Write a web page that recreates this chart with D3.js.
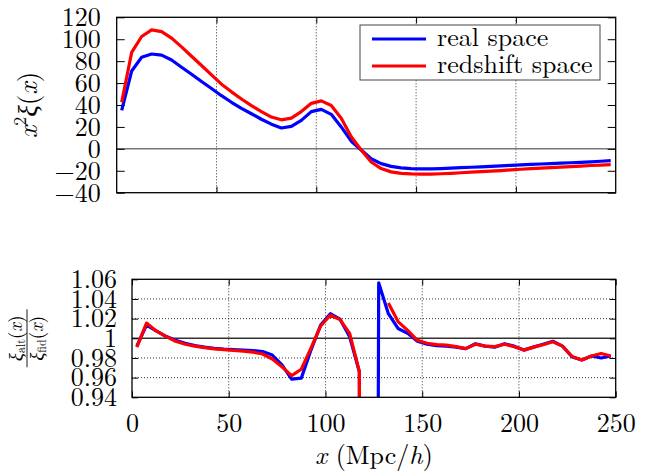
<!DOCTYPE html>
<html>
<head>
<meta charset="utf-8">
<script src="https://cdn.jsdelivr.net/npm/d3@7"></script>
<style>
  body { margin: 0; background: #fff; }
  text { font-family: "Latin Modern Roman", "Liberation Serif", serif; fill: #000; }
  .greek { font-family: "Liberation Serif", serif; font-style: italic; }
</style>
</head>
<body>
<svg id="chart"></svg>
<script>
/* global d3 */

// bin centres (Mpc/h)
const binCentres = [
  2.5, 7.5, 12.5, 17.5, 22.5, 27.5, 32.5, 37.5, 42.5, 47.5,
  52.5, 57.5, 62.5, 67.5, 72.5, 77.5, 82.5, 87.5, 92.5, 97.5,
  102.5, 107.5, 112.5, 117.5, 122.5, 127.5, 132.5, 137.5, 142.5, 147.5,
  152.5, 157.5, 162.5, 167.5, 172.5, 177.5, 182.5, 187.5, 192.5, 197.5,
  202.5, 207.5, 212.5, 217.5, 222.5, 227.5, 232.5, 237.5, 242.5, 247.5,
];

// x^2 xi(x)
const realXi = [
  35, 71, 83.5, 86.5, 85.5, 81, 74.5, 68, 61.5, 55,
  48.5, 42.5, 37, 32, 27, 22.5, 19, 20.5, 26, 34,
  36, 31.5, 20, 7, -1, -9, -13.5, -16, -17.3, -18,
  -18.2, -18.2, -18, -17.6, -17.2, -16.8, -16.4, -16, -15.6, -15,
  -14.6, -14.2, -13.8, -13.5, -13.1, -12.7, -12.3, -11.8, -11.3, -10.8,
];
const redshiftXi = [
  42.5, 88, 102.5, 108.5, 107, 101, 93, 84.5, 76, 67.5,
  59, 52, 45.5, 39.5, 34, 29, 26.5, 28, 34, 41.5,
  43.8, 39.5, 28, 11, -1, -12, -18, -21, -22.3, -22.8,
  -23, -23, -22.7, -22.3, -21.8, -21.3, -20.8, -20.3, -19.8, -19.2,
  -18.6, -18.1, -17.6, -17.2, -16.7, -16.2, -15.7, -15.2, -14.8, -14.4,
];

// xi_alt / xi_fid
const realRatio = [
  0.992, 1.0135, 1.0075, 1.002, 0.998, 0.995, 0.9925, 0.991, 0.9898, 0.989,
  0.9885, 0.988, 0.9875, 0.9865, 0.983, 0.973, 0.9585, 0.9595, 0.988, 1.0135,
  1.025, 1.0195, 1.0015, 0.966, -1.85, 1.0565, 1.025, 1.01, 1.005, 0.997,
  0.994, 0.9925, 0.992, 0.991, 0.9895, 0.9945, 0.992, 0.991, 0.9945, 0.992,
  0.988, 0.991, 0.994, 0.997, 0.992, 0.981, 0.978, 0.982, 0.980, 0.982,
];
const redshiftRatio = [
  0.991, 1.0155, 1.0075, 1.002, 0.997, 0.994, 0.992, 0.9905, 0.9893, 0.9885,
  0.9878, 0.987, 0.986, 0.984, 0.979, 0.971, 0.962, 0.9685, 0.99, 1.0125,
  1.0235, 1.019, 1.005, 0.966, -3, null, 1.036, 1.017, 1.008, 0.998,
  0.995, 0.9935, 0.993, 0.9915, 0.9895, 0.994, 0.992, 0.9915, 0.994, 0.9915,
  0.988, 0.991, 0.9935, 0.9965, 0.992, 0.9815, 0.978, 0.982, 0.9845, 0.982,
];

const seriesNames = ['real space', 'redshift space'];
const seriesColors = ['#0000ff', '#ff0000'];

const xiTicks = [120, 100, 80, 60, 40, 20, 0, -20, -40];
const ratioTicks = [1.06, 1.04, 1.02, 1, 0.98, 0.96, 0.94];
const ratioTickLabels = ['1.06', '1.04', '1.02', '1', '0.98', '0.96', '0.94'];
const xTicks = [0, 50, 100, 150, 200, 250];
const xGrid = [50, 100, 150, 200];

//-------------------------------------------------

const WIDTH = 646;
const HEIGHT = 475;
const FONT = 26;
const FAMILY = '"Latin Modern Roman", "Liberation Serif", serif';

const topBox = { left: 116.7, right: 615.7, top: 17.3, bottom: 192.7 };
const botBox = { left: 132, right: 615.7, top: 279.3, bottom: 397.3 };

const svg = d3.select('#chart')
  .attr('width', WIDTH)
  .attr('height', HEIGHT);

const minus = d => (d < 0 ? `\u2212${-d}` : `${d}`);

const xTop = d3.scaleLinear().domain([0, 250]).range([topBox.left, topBox.right]);
const yTop = d3.scaleLinear().domain([-40, 120]).range([topBox.bottom, topBox.top]);
const xBot = d3.scaleLinear().domain([0, 250]).range([botBox.left, botBox.right]);
const yBot = d3.scaleLinear().domain([0.94, 1.06]).range([botBox.bottom, botBox.top]);

const styleAxis = function (g) {
  g.select('.domain').remove();
  g.selectAll('.tick line').attr('stroke', '#000').attr('stroke-width', 1);
  g.selectAll('.tick text')
    .style('font-family', FAMILY)
    .attr('font-size', FONT);
};

const panel = function (box, x, name) {
  const g = svg.append('g');
  const id = `clip-${name}`;
  svg.append('clipPath').attr('id', id)
    .append('rect')
    .attr('x', box.left).attr('y', box.top)
    .attr('width', box.right - box.left)
    .attr('height', box.bottom - box.top);

  g.selectAll('.vgrid')
    .data(xGrid)
    .enter().append('line')
    .attr('x1', d => x(d)).attr('x2', d => x(d))
    .attr('y1', box.top).attr('y2', box.bottom)
    .attr('stroke', '#000')
    .attr('stroke-width', 0.8)
    .attr('stroke-dasharray', '1,2');
  return { g, id };
};

//------------------------------------------------- top panel

const topPanel = panel(topBox, xTop, 'top');

topPanel.g.append('line')
  .attr('x1', topBox.left).attr('x2', topBox.right)
  .attr('y1', yTop(0)).attr('y2', yTop(0))
  .attr('stroke', '#777')
  .attr('stroke-width', 1.5);

topPanel.g.append('g')
  .attr('transform', `translate(${topBox.left},0)`)
  .call(d3.axisLeft(yTop).tickValues(xiTicks).tickSize(-8).tickPadding(16).tickFormat(minus))
  .call(styleAxis);
topPanel.g.append('g')
  .attr('transform', `translate(${topBox.right},0)`)
  .call(d3.axisRight(yTop).tickValues(xiTicks).tickSize(-8).tickFormat(''))
  .call(styleAxis);
topPanel.g.append('g')
  .attr('transform', `translate(0,${topBox.bottom})`)
  .call(d3.axisBottom(xTop).tickValues(xGrid).tickSize(-6).tickFormat(''))
  .call(styleAxis);
topPanel.g.append('g')
  .attr('transform', `translate(0,${topBox.top})`)
  .call(d3.axisTop(xTop).tickValues(xGrid).tickSize(-6).tickFormat(''))
  .call(styleAxis);

const lineTop = d3.line()
  .x((d, i) => xTop(binCentres[i]))
  .y(d => yTop(d));

[realXi, redshiftXi].forEach((vals, k) => {
  topPanel.g.append('path')
    .datum(vals)
    .attr('clip-path', `url(#${topPanel.id})`)
    .attr('fill', 'none')
    .attr('stroke', seriesColors[k])
    .attr('stroke-width', 3.2)
    .attr('stroke-linejoin', 'round')
    .attr('d', lineTop);
});

topPanel.g.append('rect')
  .attr('x', topBox.left).attr('y', topBox.top)
  .attr('width', topBox.right - topBox.left)
  .attr('height', topBox.bottom - topBox.top)
  .attr('fill', 'none')
  .attr('stroke', '#000')
  .attr('stroke-width', 1.3);

// legend
const legend = topPanel.g.append('g');
legend.append('rect')
  .attr('x', 360).attr('y', 25)
  .attr('width', 240).attr('height', 55)
  .attr('fill', '#fff')
  .attr('stroke', '#444')
  .attr('stroke-width', 1);
seriesNames.forEach((name, k) => {
  const yy = 39 + k * 27;
  legend.append('line')
    .attr('x1', 372).attr('x2', 426)
    .attr('y1', yy).attr('y2', yy)
    .attr('stroke', seriesColors[k])
    .attr('stroke-width', 3.2);
  legend.append('text')
    .attr('x', 437).attr('y', yy + 7)
    .attr('font-size', FONT)
    .text(name);
});

// y label: x^2 xi(x)
const yl = svg.append('text')
  .attr('transform', `translate(37,${(topBox.top + topBox.bottom) / 2}) rotate(-90)`)
  .attr('text-anchor', 'middle')
  .attr('font-size', 27);
yl.append('tspan').attr('font-style', 'italic').text('x');
yl.append('tspan').attr('font-size', 18).attr('dy', -11).text('2');
yl.append('tspan').attr('dy', 11).attr('class', 'greek').text('ξ');
yl.append('tspan').text('(');
yl.append('tspan').attr('font-style', 'italic').text('x');
yl.append('tspan').text(')');

//------------------------------------------------- bottom panel

const botPanel = panel(botBox, xBot, 'bot');

botPanel.g.selectAll('.hgrid')
  .data(ratioTicks.filter(d => d !== 1 && d !== 1.06 && d !== 0.94))
  .enter().append('line')
  .attr('x1', botBox.left).attr('x2', botBox.right)
  .attr('y1', d => yBot(d)).attr('y2', d => yBot(d))
  .attr('stroke', '#000')
  .attr('stroke-width', 0.8)
  .attr('stroke-dasharray', '1,2');

botPanel.g.append('line')
  .attr('x1', botBox.left).attr('x2', botBox.right)
  .attr('y1', yBot(1)).attr('y2', yBot(1))
  .attr('stroke', '#333')
  .attr('stroke-width', 1.5);

botPanel.g.append('g')
  .attr('transform', `translate(${botBox.left},0)`)
  .call(d3.axisLeft(yBot).tickValues(ratioTicks).tickSize(-6).tickPadding(15)
    .tickFormat((d, i) => ratioTickLabels[i]))
  .call(styleAxis);
botPanel.g.append('g')
  .attr('transform', `translate(${botBox.right},0)`)
  .call(d3.axisRight(yBot).tickValues(ratioTicks).tickSize(-6).tickFormat(''))
  .call(styleAxis);
botPanel.g.append('g')
  .attr('transform', `translate(0,${botBox.bottom})`)
  .call(d3.axisBottom(xBot).tickValues(xTicks).tickSize(-6).tickPadding(16))
  .call(styleAxis);
botPanel.g.append('g')
  .attr('transform', `translate(0,${botBox.top})`)
  .call(d3.axisTop(xBot).tickValues(xTicks).tickSize(-6).tickFormat(''))
  .call(styleAxis);

const lineBot = d3.line()
  .defined(d => d !== null)
  .x((d, i) => xBot(binCentres[i]))
  .y(d => yBot(d));

[realRatio, redshiftRatio].forEach((vals, k) => {
  botPanel.g.append('path')
    .datum(vals)
    .attr('clip-path', `url(#${botPanel.id})`)
    .attr('fill', 'none')
    .attr('stroke', seriesColors[k])
    .attr('stroke-width', 3.2)
    .attr('stroke-linejoin', 'round')
    .attr('d', lineBot);
});

botPanel.g.append('rect')
  .attr('x', botBox.left).attr('y', botBox.top)
  .attr('width', botBox.right - botBox.left)
  .attr('height', botBox.bottom - botBox.top)
  .attr('fill', 'none')
  .attr('stroke', '#000')
  .attr('stroke-width', 1.3);

// y label: xi_alt(x) / xi_fid(x)
const frac = svg.append('g')
  .attr('transform', `translate(28,${(botBox.top + botBox.bottom) / 2}) rotate(-90)`);
const fracPart = function (sub, yy) {
  const t = frac.append('text')
    .attr('x', 0).attr('y', yy)
    .attr('text-anchor', 'middle')
    .attr('font-size', 19);
  t.append('tspan').attr('class', 'greek').text('ξ');
  t.append('tspan').attr('font-size', 12).attr('dy', 3).text(sub);
  t.append('tspan').attr('dy', -3).text('(');
  t.append('tspan').attr('font-style', 'italic').text('x');
  t.append('tspan').text(')');
};
fracPart('alt', -6);
fracPart('fid', 15);
frac.append('line')
  .attr('x1', -29).attr('x2', 29)
  .attr('y1', -1).attr('y2', -1)
  .attr('stroke', '#000')
  .attr('stroke-width', 0.9);

// x label
const xl = svg.append('text')
  .attr('x', (botBox.left + botBox.right) / 2)
  .attr('y', 464)
  .attr('text-anchor', 'middle')
  .attr('font-size', FONT);
xl.append('tspan').attr('font-style', 'italic').text('x');
xl.append('tspan').text(' (Mpc/');
xl.append('tspan').attr('font-style', 'italic').text('h');
xl.append('tspan').text(')');
</script>
</body>
</html>
